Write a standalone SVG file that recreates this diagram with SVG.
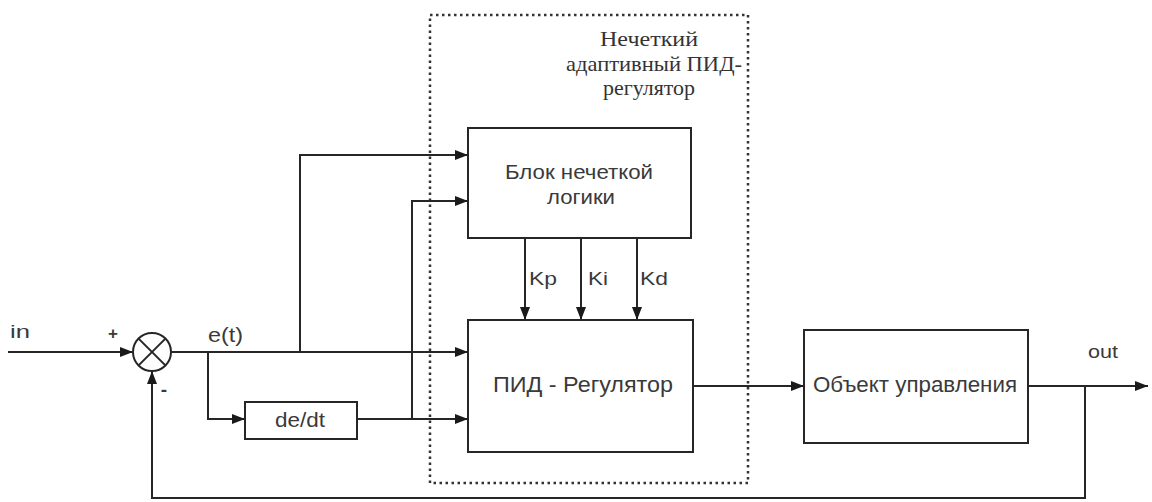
<svg xmlns="http://www.w3.org/2000/svg" width="1152" height="502" viewBox="0 0 1152 502">
<style>
.ln{fill:none;stroke:#262626;stroke-width:2}
.bx{fill:#fff;stroke:#262626;stroke-width:2}
.t{font-family:"Liberation Sans",Arial,sans-serif;fill:#3a3a3a}
.s{font-family:"Liberation Serif","Times New Roman",serif;fill:#333}
</style>
<defs>
<marker id="ar" markerUnits="userSpaceOnUse" markerWidth="14" markerHeight="12" refX="13" refY="5" orient="auto">
<path d="M0,0 L13,5 L0,10 Z" fill="#1a1a1a"/>
</marker>
</defs>
<rect width="1152" height="502" fill="#fff"/>

<g id="frame">
<rect x="430" y="15" width="318" height="468" fill="none" stroke="#333" stroke-width="2.5" stroke-dasharray="2.5,3.5"/>
<text class="s" font-size="21" text-anchor="middle"><tspan x="649" y="46" textLength="98" lengthAdjust="spacingAndGlyphs">Нечеткий</tspan><tspan x="654" y="71" textLength="176" lengthAdjust="spacingAndGlyphs">адаптивный ПИД-</tspan><tspan x="649" y="95" textLength="92" lengthAdjust="spacingAndGlyphs">регулятор</tspan></text>
</g>

<g id="connectors">
<path class="ln" d="M8,352 H133" marker-end="url(#ar)"/>
<path class="ln" d="M171,352 H468" marker-end="url(#ar)"/>
<path class="ln" d="M208,352 V419 H245" marker-end="url(#ar)"/>
<path class="ln" d="M300,352 V155 H468" marker-end="url(#ar)"/>
<path class="ln" d="M357,419 H468" marker-end="url(#ar)"/>
<path class="ln" d="M412,419 V201 H468" marker-end="url(#ar)"/>
<path class="ln" d="M525,238 V320" marker-end="url(#ar)"/>
<path class="ln" d="M581,238 V320" marker-end="url(#ar)"/>
<path class="ln" d="M637,238 V320" marker-end="url(#ar)"/>
<path class="ln" d="M693,386 H804" marker-end="url(#ar)"/>
<path class="ln" d="M1028,386 H1148" marker-end="url(#ar)"/>
<path class="ln" d="M1085,386 V498 H152 V371" marker-end="url(#ar)"/>
</g>

<g id="sum">
<circle cx="152" cy="352" r="19" fill="#fff" stroke="#262626" stroke-width="2"/>
<path class="ln" d="M138.6,338.6 L165.4,365.4 M165.4,338.6 L138.6,365.4"/>
</g>

<g id="fuzzy">
<rect class="bx" x="468" y="128" width="223" height="110"/>
<text class="t" font-size="21" text-anchor="middle"><tspan x="579" y="179" textLength="148" lengthAdjust="spacingAndGlyphs">Блок нечеткой</tspan><tspan x="581" y="204" textLength="68" lengthAdjust="spacingAndGlyphs">логики</tspan></text>
</g>

<g id="pid">
<rect class="bx" x="468" y="320" width="225" height="132"/>
<text class="t" font-size="22" x="583" y="392" text-anchor="middle" textLength="180" lengthAdjust="spacingAndGlyphs">ПИД - Регулятор</text>
</g>

<g id="deriv">
<rect class="bx" x="245" y="402" width="112" height="37"/>
<text class="t" font-size="20" x="300" y="427" text-anchor="middle" textLength="50" lengthAdjust="spacingAndGlyphs">de/dt</text>
</g>

<g id="plant">
<rect class="bx" x="804" y="330" width="224" height="113"/>
<text class="t" font-size="22" x="915" y="392" text-anchor="middle" textLength="204" lengthAdjust="spacingAndGlyphs">Объект управления</text>
</g>

<g id="labels">
<text class="t" font-size="19" x="529" y="285" textLength="28" lengthAdjust="spacingAndGlyphs">Kp</text>
<text class="t" font-size="19" x="588" y="285" textLength="20" lengthAdjust="spacingAndGlyphs">Ki</text>
<text class="t" font-size="19" x="640" y="285" textLength="28" lengthAdjust="spacingAndGlyphs">Kd</text>
<text class="t" font-size="19" x="1088" y="358" textLength="30" lengthAdjust="spacingAndGlyphs">out</text>
<text class="t" font-size="20" x="208" y="342" textLength="35" lengthAdjust="spacingAndGlyphs">e(t)</text>
<text class="t" font-size="19" x="10" y="338" textLength="20" lengthAdjust="spacingAndGlyphs">in</text>
<text class="t" font-size="17" font-weight="bold" x="113" y="339" text-anchor="middle">+</text>
<text class="t" font-size="19" font-weight="bold" x="164" y="396" text-anchor="middle">-</text>
</g>
</svg>
